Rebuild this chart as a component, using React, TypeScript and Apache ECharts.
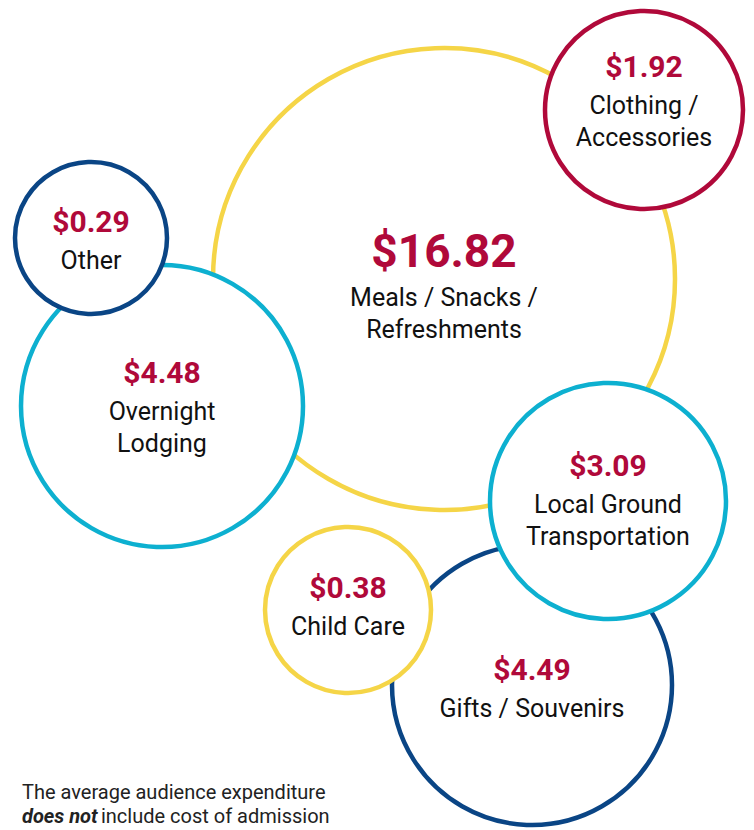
import React, { useEffect, useRef } from "react";
import * as echarts from "echarts";

// Expenditure categories (drawing order = stacking order)
const categories = [
  "Meals / Snacks / Refreshments",
  "Clothing / Accessories",
  "Overnight Lodging",
  "Other",
  "Gifts / Souvenirs",
  "Child Care",
  "Local Ground Transportation",
];
// Label lines shown inside each bubble
const labelLines = [
  ["Meals / Snacks /", "Refreshments"],
  ["Clothing /", "Accessories"],
  ["Overnight", "Lodging"],
  ["Other"],
  ["Gifts / Souvenirs"],
  ["Child Care"],
  ["Local Ground", "Transportation"],
];
// Average audience expenditure per person (USD)
const values = [16.82, 1.92, 4.48, 0.29, 4.49, 0.38, 3.09];
// Bubble layout (designer placement, in chart units)
const bubbleX = [444, 644, 162, 91, 532, 348, 608];
const bubbleY = [279, 110, 406, 238, 685, 610, 501];
const bubbleR = [231, 99, 141, 76, 140, 83, 118];
const labelDy = [4, -12, -2, -1, 0, -7, -4];
const ringColors = ["#F5D547", "#B0093A", "#0DB0D0", "#0A4585", "#0A4585", "#F5D547", "#0DB0D0"];

const FONT = "Roboto, 'Noto Sans', sans-serif";
const RED = "#B0093A";

export default function App() {
  const ref = useRef<HTMLDivElement>(null);
  useEffect(() => {
    if (!ref.current) return;
    const chart = echarts.init(ref.current, undefined, { renderer: "svg" });
    const data = categories.map((name, i) => {
      const big = i === 0;
      const text =
        `{${big ? "vb" : "v"}|$${values[i].toFixed(2)}}` +
        labelLines[i].map((l) => `\n{n|${l}}`).join("");
      return {
        name,
        value: [bubbleX[i], bubbleY[i], values[i]],
        symbolSize: bubbleR[i] * 2,
        itemStyle: { color: "#ffffff", opacity: 1, borderColor: ringColors[i], borderWidth: 4.5 },
        label: {
          show: true,
          position: "inside",
          offset: [0, labelDy[i]],
          formatter: text,
          rich: {
            vb: { fontFamily: FONT, fontSize: 46, fontWeight: "bold", color: RED, lineHeight: 60, align: "center" },
            v: { fontFamily: FONT, fontSize: 30, fontWeight: "bold", color: RED, lineHeight: 46, align: "center" },
            n: { fontFamily: FONT, fontSize: 25, color: "#111111", lineHeight: 32, align: "center" },
          },
        },
      };
    });
    chart.setOption({
      animation: false,
      backgroundColor: "#ffffff",
      grid: { left: 0, right: 0, top: 0, bottom: 0 },
      xAxis: { type: "value", min: 0, max: 754, show: false },
      yAxis: { type: "value", min: 0, max: 830, inverse: true, show: false },
      series: [
        {
          type: "scatter",
          symbol: "circle",
          silent: true,
          emphasis: { disabled: true },
          itemStyle: { opacity: 1 },
          data,
        },
      ],
      graphic: [
        {
          type: "text",
          left: 22,
          top: 782,
          style: {
            text: "{r|The average audience expenditure}\n{b|does not} {r|include cost of admission}",
            rich: {
              b: { fontFamily: FONT, fontSize: 20, fontWeight: "bold", fontStyle: "italic", fill: "#222222", lineHeight: 24 },
              r: { fontFamily: FONT, fontSize: 20, fill: "#222222", lineHeight: 24 },
            },
          },
        },
      ],
    });
    return () => chart.dispose();
  }, []);
  return (
    <div
      ref={ref}
      style={{ position: "fixed", left: 0, top: 0, width: 754, height: 830 }}
    />
  );
}
